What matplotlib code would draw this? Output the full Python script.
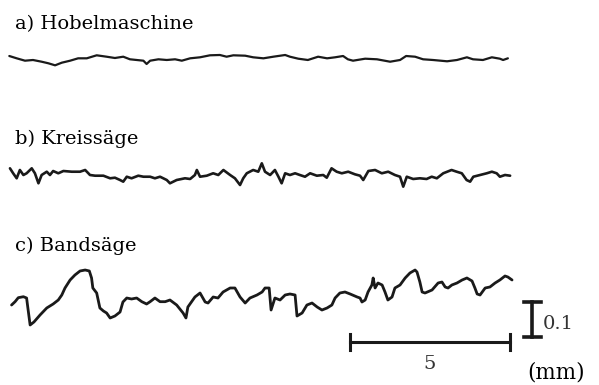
import matplotlib
matplotlib.use("Agg")
import matplotlib.pyplot as plt
import numpy as np

# ---- data: surface profiles (x in mm, height in micrometres) ----
a_x = [0.01,0.24,0.50,0.75,1.02,1.23,1.44,1.65,1.91,2.16,2.43,2.74,3.05,3.31,3.57,3.78,3.99,4.20,4.30,4.41,
       4.67,4.93,5.19,5.40,5.66,5.97,6.28,6.59,6.80,7.01,7.38,7.63,7.95,8.26,8.63,8.78,9.04,9.34,9.66,9.94,
       10.19,10.44,10.59,10.75,11.13,11.50,11.91,12.22,12.41,12.69,12.94,13.25,13.69,14.00,14.31,14.50,14.81,
       15.09,15.34,15.44,15.59]
a_h = [5.7,-0.9,-7.7,-5.7,-10.6,-15.1,-20.9,-13.4,-7.7,-0.9,-0.9,7.7,3.7,0,3.7,-3.7,-5.7,-7.7,-17.1,-7.7,
       -3.7,-5.7,-3.7,-7.7,-0.9,2.0,7.7,8.6,3.7,7.7,6.6,2.0,-0.9,3.7,8.6,3.7,-2.0,-5.7,3.7,-0.9,
       2.0,5.7,-3.7,-7.7,-2.0,-3.7,-10.6,-5.7,5.7,3.7,-3.7,-5.7,-9.4,-5.7,2.0,-3.7,-5.7,
       2.0,-2.0,-5.7,-0.9]

b_x = [0.03,0.13,0.24,0.34,0.45,0.55,0.71,0.81,0.92,1.02,1.18,1.28,1.38,1.54,1.70,1.96,2.22,2.38,2.48,2.53,
       2.69,2.95,3.16,3.31,3.47,3.57,3.68,3.83,4.04,4.20,4.41,4.56,4.72,4.93,5.03,5.24,5.50,5.66,5.81,5.87,
       5.97,6.18,6.38,6.54,6.70,6.91,7.06,7.22,7.32,7.43,7.63,7.79,7.90,8.00,8.16,8.31,8.42,8.52,8.63,8.78,
       8.94,9.09,9.25,9.41,9.62,9.82,9.93,10.08,10.24,10.40,10.60,10.81,10.97,11.07,11.23,11.44,11.65,11.85,
       12.06,12.22,12.32,12.43,12.63,12.84,13.05,13.21,13.37,13.57,13.83,13.99,14.15,14.30,14.41,14.51,14.72,
       14.93,15.09,15.24,15.34,15.50,15.66]
b_h = [19.1,4.9,-9.4,14.3,0,4.9,19.1,4.9,-23.7,0,9.4,0,11.4,4.9,11.4,9.4,9.4,14.3,4.9,0,
       -2.0,-2.0,-9.4,-7.7,-14.3,-19.1,-4.9,-9.4,-2.0,-4.9,-4.9,-9.4,-4.9,-14.3,-23.7,-14.3,-9.4,-11.4,0,14.3,
       -4.9,-2.0,4.9,0,14.3,0,-9.4,-28.6,-9.4,4.9,14.3,9.4,33.4,9.4,0,14.3,-4.9,-23.7,4.9,0,
       4.9,0,-4.9,4.9,-2.0,0,-7.7,19.1,9.4,4.9,9.4,2.0,-2.0,-14.3,11.4,14.3,4.9,9.4,
       0,-4.9,-33.4,-4.9,-11.4,-9.4,-11.4,-4.9,-9.4,4.9,14.3,9.4,4.9,-14.3,-19.1,-4.9,0,
       4.9,9.4,4.9,-4.9,0,-2.0]

c_x = [0.08,0.19,0.29,0.45,0.55,0.59,0.66,0.78,0.97,1.18,1.38,1.54,1.65,1.75,1.91,2.06,2.22,2.38,2.51,2.58,
       2.62,2.74,2.84,2.95,3.05,3.16,3.31,3.47,3.56,3.68,3.83,3.99,4.15,4.30,4.41,4.56,4.72,4.88,5.03,5.24,
       5.44,5.53,5.59,5.81,5.97,6.13,6.22,6.38,6.53,6.69,6.91,7.06,7.22,7.38,7.53,7.75,7.91,8.00,8.13,8.19,
       8.31,8.47,8.63,8.78,8.94,9.00,9.16,9.31,9.47,9.63,9.78,9.94,10.09,10.19,10.34,10.50,10.66,10.88,10.97,
       11.03,11.13,11.22,11.34,11.38,11.44,11.53,11.66,11.75,11.84,11.97,12.06,12.22,12.38,12.53,12.69,12.75,
       12.84,12.91,13.00,13.22,13.41,13.53,13.63,13.72,13.84,14.00,14.16,14.31,14.47,14.56,14.63,14.72,14.88,
       15.03,15.19,15.34,15.50,15.59,15.72]
c_h = [-28.6,-19.1,-7.7,-4.9,-8.6,-37.1,-85.7,-77.1,-57.1,-37.1,-25.7,-14.3,0,20.0,42.9,57.1,68.6,71.4,68.6,48.6,
       20.0,5.7,-37.1,-45.7,-51.4,-65.7,-60.0,-48.6,-20.0,-8.6,-11.4,-8.6,-19.1,-25.7,-19.1,-8.6,-19.1,-19.1,-14.3,-28.6,
       -51.4,-65.7,-34.3,-5.7,5.7,-20.0,-22.9,-5.7,-8.6,8.6,20.0,20.0,-5.7,-22.9,-8.6,0,8.6,20.0,20.0,-42.9,
       -8.6,-14.3,0,2.9,0,-60.0,-51.4,-28.6,-22.9,-34.3,-42.9,-37.1,-28.6,-8.6,5.7,8.6,2.9,-5.7,-8.6,
       -20.0,-14.3,8.6,28.6,48.6,20.0,34.3,28.6,8.6,-14.3,-5.7,20.0,28.6,48.6,62.9,71.4,65.7,
       37.1,8.6,5.7,14.3,34.3,37.1,22.9,20.0,28.6,34.3,42.9,48.6,40.0,20.0,2.9,0,20.0,
       22.9,34.3,42.9,54.3,51.4,42.9]

labels = ["a) Hobelmaschine", "b) Kreissäge", "c) Bandsäge"]
scale_len_mm = 5
scale_h_um = 100
scale_x_text = "5"
scale_y_text = "0.1"
unit_text = "(mm)"

# ---- layout ----
W, H = 599, 385
PX_PER_MM = 32.0
PX_PER_UM = 0.35
X0 = 9  # pixel of x = 0
fig = plt.figure(figsize=(W/100, H/100), dpi=100)
ax = fig.add_axes([0, 0, 1, 1])
ax.set_xlim(-X0/PX_PER_MM, (W - X0)/PX_PER_MM)
ax.set_ylim(-H/PX_PER_UM, 0)
ax.axis("off")

def ypx(p):  # vertical position (pixel from top) -> data
    return -p / PX_PER_UM

offsets = [ypx(58), ypx(175), ypx(295)]
col = "#1a1a1a"
for (xs, hs), off, lw in zip([(a_x, a_h), (b_x, b_h), (c_x, c_h)], offsets, [1.6, 1.9, 2.0]):
    ax.plot(xs, np.array(hs) + off, color=col, lw=lw, solid_joinstyle="round", solid_capstyle="round")

serif = ["DejaVu Serif"]
font = dict(family=serif, fontsize=14, color="black")
for lab, yp in zip(labels, [29, 144, 251]):
    fig.text(15/W, 1 - yp/H, lab, ha="left", va="baseline", **font)

# horizontal scale bar
sx0 = (350 - X0)/PX_PER_MM
sy = ypx(342)
ax.plot([sx0, sx0 + scale_len_mm], [sy, sy], color=col, lw=2.2)
for xx in [sx0, sx0 + scale_len_mm]:
    ax.plot([xx, xx], [sy - 8/PX_PER_UM, sy + 8/PX_PER_UM], color=col, lw=2.2)
fig.text(((sx0 + scale_len_mm/2)*PX_PER_MM + X0)/W, 1 - 369/H, scale_x_text,
         ha="center", va="baseline", family=serif, fontsize=14, color="#333333")

# vertical scale bar
vx = (532 - X0)/PX_PER_MM
vtop = ypx(302)
ax.plot([vx, vx], [vtop, vtop - scale_h_um], color=col, lw=2.6)
hw = 8.5/PX_PER_MM
for yy in [vtop, vtop - scale_h_um]:
    ax.plot([vx - hw, vx + hw], [yy, yy], color=col, lw=2.6)
fig.text(543/W, 1 - 329/H, scale_y_text, ha="left", va="baseline",
         family=serif, fontsize=14, color="#333333")
fig.text(527/W, 1 - 378/H, unit_text, ha="left", va="baseline",
         family=serif, fontsize=15.5, color="black")

fig.savefig("out.png", dpi=100)
